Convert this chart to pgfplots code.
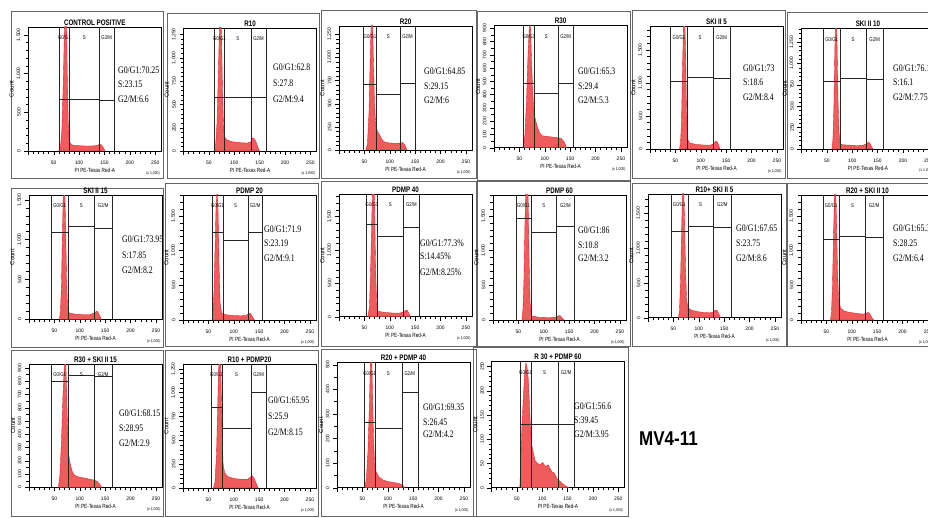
\documentclass[border=0pt]{standalone}
\usepackage{fontspec}
\setmainfont{Liberation Sans}
\newfontfamily\tms{Liberation Serif}
\usepackage{graphicx}
\usepackage{pgfplots}
\pgfplotsset{compat=1.18}

\definecolor{histfill}{RGB}{240,92,92}
\definecolor{histline}{RGB}{222,28,34}

\newcommand\cond[2][0.78]{\scalebox{#1}[1]{#2}}

\pgfplotsset{
  cyto/.style={
    scale only axis, width=133pt, anchor=south west,
    xmin=0, xmax=262, ymin=0,
    axis line style={line width=0.45pt},
    tick align=outside, xtick pos=bottom, ytick pos=left,
    xtick={0,50,...,250}, xticklabels={,50,100,150,200,250},
    minor x tick num=4,
    major tick length=4pt, minor tick length=2.6pt,
    every tick/.style={black, line width=0.35pt},
    scaled y ticks=false,
    /pgf/number format/assume math mode=true,
    /pgf/number format/1000 sep={,},
    tick label style={font=\fontsize{5}{5}\selectfont},
    xticklabel style={yshift=-2pt},
    yticklabel style={rotate=90, anchor=south},
    xlabel={\cond[0.78]{PI PE-Texas Red-A}}, ylabel={Count},
    xlabel style={font=\fontsize{6}{6}\selectfont},
    ylabel style={font=\fontsize{6}{6}\selectfont},
    xlabel shift=-3pt, ylabel shift=-4pt,
    every axis title/.style={at={(0.5,1)}, anchor=south, inner sep=1pt,
      yshift=0.5pt, font=\bfseries\fontsize{8}{8}\selectfont},
    extra description/.code={
      \node[anchor=east, inner sep=0pt, font=\fontsize{4}{4}\selectfont]
        at (0.99,-0.18) {\cond[0.85]{(x 1,000)}};},
  },
  pos/.style n args={3}{at={(#1pt,{517pt-#2pt})}, height=#3pt},
  hist/.style={draw=histline, fill=histfill, line width=0.35pt},
  gl/.style={black!85, line width=0.45pt},
}
\tikzset{
  gtxt/.style={inner sep=0pt, yshift=-11pt, font=\fontsize{5.5}{6}\selectfont},
  ann/.style={anchor=west, inner sep=0pt, font=\tms\fontsize{10}{12}\selectfont},
  frame/.style={draw=black!60, line width=0.8pt},
}

% gates: a b c d  hG1 hS hG2  ymax
\newcommand\gates[8]{%
  \addplot[gl] coordinates {(#1,0) (#1,#8)};
  \addplot[gl] coordinates {(#2,0) (#2,#8)};
  \addplot[gl] coordinates {(#3,0) (#3,#8)};
  \addplot[gl] coordinates {(#4,0) (#4,#8)};
  \addplot[gl] coordinates {(#1,#5) (#2,#5)};
  \addplot[gl] coordinates {(#2,#6) (#3,#6)};
  \addplot[gl] coordinates {(#3,#7) (#4,#7)};
  \node[gtxt] at (axis cs:{(#1+#2)/2},#8) {\cond{G0/G1}};
  \node[gtxt] at (axis cs:{(#2+#3)/2},#8) {\cond{S}};
  \node[gtxt] at (axis cs:{(#3+#4)/2},#8) {\cond{G2/M}};
}
\newcommand\ann[7]{%
  \node[ann] at (#1pt,{517pt-#2pt}) {\cond{#5}};
  \node[ann] at (#1pt,{517pt-#3pt}) {\cond{#6}};
  \node[ann] at (#1pt,{517pt-#4pt}) {\cond{#7}};}
\newcommand\frm[4]{\draw[frame] (#1pt,{517pt-#2pt}) rectangle (#3pt,{517pt-#4pt});}

\begin{document}
\begin{tikzpicture}
\path[use as bounding box] (0,0) rectangle (928pt,517pt);
\clip (0,0) rectangle (928pt,517pt);
\fill[white] (0,0) rectangle (928pt,517pt);

% frames
\frm{11}{11}{163}{178}
\frm{167}{13}{319}{178}
\frm{321}{10}{476}{178}
\frm{477}{11}{630}{180}
\frm{632}{10}{785}{178}
\frm{787}{12}{935}{178}
\frm{11}{188}{163}{347}
\frm{165}{183}{318}{346}
\frm{321}{181}{476}{346}
\frm{477}{181}{630}{346}
\frm{632}{183}{786}{346}
\frm{787}{183}{935}{346}
\frm{11}{350}{163}{516}
\frm{165}{350}{318}{516}
\frm{321}{349}{476}{516}
\frm{473}{347}{628}{516}

% ---------- row 1 ----------
\begin{axis}[cyto, pos={28.3}{151}{124}, ymax=1600, ytick distance=500, minor y tick num=4, title={\cond{CONTROL POSITIVE}}]
\addplot[hist] coordinates {(60,0)(63,30)(66,250)(69,900)(71,1500)(73,1800)(75,1700)(77,900)(79,300)(81,120)(85,80)(95,70)(110,65)(125,65)(135,70)(140,85)(144,80)(148,40)(151,0)} \closedcycle;
\gates{61}{81}{140}{169}{666}{666}{650}{1600}
\end{axis}
\ann{118}{70}{84}{99}{G0/G1:70.25}{S:23.15}{G2/M:6.6}

\begin{axis}[cyto, pos={183.5}{151}{123}, ymax=1320, ytick distance=250, minor y tick num=4, title={\cond{R10}}]
\addplot[hist] coordinates {(60,0)(63,40)(66,300)(69,900)(71,1400)(73,1600)(75,1200)(77,600)(79,250)(81,150)(85,120)(95,100)(110,90)(125,85)(132,95)(136,140)(140,130)(144,80)(148,20)(150,0)} \closedcycle;
\gates{61}{80.5}{133}{162.6}{581}{581}{581}{1320}
\end{axis}
\ann{273}{67}{83}{99}{G0/G1:62.8}{S:27.8}{G2/M:9.4}

\begin{axis}[cyto, pos={339}{150}{124}, ymax=1340, ytick distance=250, minor y tick num=4, title={\cond{R20}}]
\addplot[hist] coordinates {(53,0)(56,60)(59,400)(62,1100)(64,1500)(66,1400)(68,900)(70,500)(72,300)(75,210)(80,160)(85,110)(90,85)(100,75)(110,72)(120,75)(126,80)(130,50)(134,0)} \closedcycle;
\gates{48}{74.3}{120}{150}{714}{598}{721}{1340}
\end{axis}
\ann{424}{71}{86}{100}{G0/G1:64.85}{S:29.15}{G2/M:6}

\begin{axis}[cyto, pos={494}{147.7}{122}, ymax=920, ytick distance=100, minor y tick num=1, title={\cond{R30}}]
\addplot[hist] coordinates {(58,0)(61,100)(64,350)(67,700)(70,950)(72,900)(74,650)(76,450)(78,300)(81,220)(85,160)(90,110)(95,90)(105,85)(115,80)(125,75)(132,70)(138,45)(143,0)} \closedcycle;
\gates{57.8}{79.5}{126.8}{155.2}{484}{414}{489}{920}
\end{axis}
\ann{578}{71}{86}{100}{G0/G1:65.3}{S:29.4}{G2/M:5.3}

\begin{axis}[cyto, pos={650}{149}{122.3}, ymax=1850, ytick distance=500, minor y tick num=4, title={\cond{SKI II 5}}]
\addplot[hist] coordinates {(58,0)(60,80)(62,400)(64,1200)(66,1900)(68,2100)(70,1500)(72,500)(74,150)(78,90)(90,70)(105,60)(120,60)(126,80)(130,120)(133,100)(136,40)(138,0)} \closedcycle;
\gates{40.8}{73.6}{123.6}{159}{1030}{1082}{1067}{1850}
\end{axis}
\ann{743}{68}{82}{97}{G0/G1:73}{S:18.6}{G2/M:8.4}

\begin{axis}[cyto, pos={801.4}{149}{120.7}, ymax=1410, ytick distance=250, minor y tick num=4, title={\cond{SKI II 10}}]
\addplot[hist] coordinates {(60,0)(62,100)(64,500)(66,1200)(68,1600)(70,1300)(72,600)(74,200)(76,70)(80,50)(95,45)(110,40)(122,45)(128,60)(132,80)(135,65)(138,25)(141,0)} \closedcycle;
\gates{43.2}{76.1}{127.4}{161.5}{789}{829}{817}{1410}
\end{axis}
\ann{893}{68}{82}{97}{G0/G1:76.15}{S:16.1}{G2/M:7.75}

% ---------- row 2 ----------
\begin{axis}[cyto, pos={29}{319.3}{124.3}, ymax=1560, ytick distance=500, minor y tick num=4, title={\cond{SKI II 15}}]
\addplot[hist] coordinates {(60,0)(62,100)(64,450)(66,1100)(68,1700)(70,1800)(72,1200)(74,500)(76,150)(79,80)(90,65)(105,60)(120,60)(127,75)(132,95)(135,100)(138,60)(143,0)} \closedcycle;
\gates{43.4}{77.5}{128.2}{164.3}{1088}{1167}{1138}{1560}
\end{axis}
\ann{122}{239}{255}{270}{G0/G1:73.95}{S:17.85}{G2/M:8.2}

\begin{axis}[cyto, pos={183}{320}{125}, ymax=1800, ytick distance=500, minor y tick num=4, title={\cond{PDMP 20}}]
\addplot[hist] coordinates {(57,0)(59,100)(61,400)(63,1000)(65,1600)(67,1900)(69,1600)(71,800)(73,250)(76,100)(85,75)(100,65)(115,60)(124,65)(129,90)(132,100)(135,70)(139,20)(141,0)} \closedcycle;
\gates{57}{79}{128}{156}{1267}{1152}{1267}{1800}
\end{axis}
\ann{264}{229}{243}{258}{G0/G1:71.9}{S:23.19}{G2/M:9.1}

\begin{axis}[cyto, pos={339}{316.7}{122.7}, ymax=1840, ytick distance=500, minor y tick num=4, title={\cond{PDMP 40}}]
\addplot[hist] coordinates {(57,0)(60,150)(62,600)(64,1300)(66,1900)(68,2100)(70,1700)(72,800)(74,200)(77,80)(90,65)(105,55)(120,55)(127,70)(132,100)(135,90)(138,40)(141,0)} \closedcycle;
\gates{54.6}{75.5}{126.8}{158.4}{1386}{1210}{1341}{1840}
\end{axis}
\ann{420}{243}{256}{272}{G0/G1:77.3\%}{S:14.45\%}{G2/M:8.25\%}

\begin{axis}[cyto, pos={493}{320}{125}, ymax=1800, ytick distance=500, minor y tick num=4, title={\cond{PDMP 60}}]
\addplot[hist] coordinates {(57,0)(59,150)(61,600)(63,1400)(65,2100)(67,2300)(69,1800)(71,900)(73,250)(76,60)(90,40)(110,35)(124,40)(129,60)(132,65)(135,40)(138,10)(140,0)} \closedcycle;
\gates{45}{75}{125}{160}{1469}{1267}{1354}{1800}
\end{axis}
\ann{578}{230}{245}{258}{G0/G1:86}{S:10.8}{G2/M:3.2}

\begin{axis}[cyto, pos={648}{317.7}{123.7}, ymax=1780, ytick distance=500, minor y tick num=4, title={\cond{R10+ SKI II 5}}]
\addplot[hist] coordinates {(60,0)(62,100)(64,500)(66,1200)(68,1800)(70,1900)(72,1400)(74,700)(76,250)(79,140)(85,110)(95,90)(110,75)(122,70)(128,80)(133,110)(136,105)(139,60)(143,0)} \closedcycle;
\gates{44.8}{78.3}{128.8}{163.7}{1239}{1311}{1297}{1780}
\end{axis}
\ann{736}{228}{243}{258}{G0/G1:67.65}{S:23.75}{G2/M:8.6}

\begin{axis}[cyto, pos={801}{320}{125}, ymax=1800, ytick distance=500, minor y tick num=4, title={\cond{R20 + SKI II 10}}]
\addplot[hist] coordinates {(58,0)(60,100)(62,500)(64,1200)(66,1800)(68,1900)(70,1400)(72,700)(74,300)(78,170)(85,130)(95,110)(110,95)(122,85)(128,90)(132,110)(135,95)(139,40)(143,0)} \closedcycle;
\gates{43}{76}{127}{161}{1166}{1210}{1195}{1800}
\end{axis}
\ann{893}{228}{243}{258}{G0/G1:65.35}{S:28.25}{G2/M:6.4}

% ---------- row 3 ----------
\begin{axis}[cyto, pos={29}{487.3}{123.3}, ymax=930, ytick distance=100, minor y tick num=1, title={\cond{R30 + SKI II 15}}]
\addplot[hist] coordinates {(58,0)(61,100)(64,350)(67,700)(70,950)(72,1000)(74,750)(76,450)(78,250)(81,180)(85,120)(90,90)(100,75)(110,70)(120,60)(128,55)(134,45)(139,25)(143,0)} \closedcycle;
\gates{43.4}{77.5}{128.2}{164.3}{800}{845}{838}{930}
\end{axis}
\ann{119}{413}{428}{443}{G0/G1:68.15}{S:28.95}{G2/M:2.9}

\begin{axis}[cyto, pos={183}{488}{124}, ymax=1300, ytick distance=250, minor y tick num=4, title={\cond{R10 + PDMP20}}]
\addplot[hist] coordinates {(60,0)(63,60)(66,350)(69,1000)(71,1400)(73,1500)(75,1100)(77,550)(79,250)(82,160)(88,120)(100,100)(115,90)(127,90)(132,110)(136,130)(140,100)(144,50)(148,0)} \closedcycle;
\gates{55}{77}{134}{164}{850}{629}{1006}{1300}
\end{axis}
\ann{268}{400}{416}{432}{G0/G1:65.95}{S:25.9}{G2/M:8.15}

\begin{axis}[cyto, pos={337}{487.7}{125.4}, ymax=510, ytick distance=100, minor y tick num=1, title={\cond{R20 + PDMP 40}}]
\addplot[hist] coordinates {(55,0)(58,40)(61,150)(64,350)(66,520)(68,560)(70,380)(72,200)(74,100)(77,65)(82,45)(90,32)(100,25)(115,20)(125,15)(130,8)(134,0)} \closedcycle;
\gates{53.8}{74.9}{127.6}{159.2}{265}{242}{389}{510}
\end{axis}
\ann{423}{407}{422}{434}{G0/G1:69.35}{S:26.45}{G2/M:4.2}

\begin{axis}[cyto, pos={491.4}{487.7}{126}, ymax=260, ytick distance=50, minor y tick num=4, title={\cond{R 30 + PDMP 60}}]
\addplot[hist] coordinates {(56,0)(58,60)(60,123)(63,190)(66,240)(68,258)(70,250)(73,220)(76,145)(79,90)(83,70)(86,56)(91,50)(96,47)(101,52)(106,44)(112,47)(119,33)(124,30)(129,19)(134,14)(139,9)(144,5)(149,2)(152,0)} \closedcycle;
\gates{56.4}{78.1}{130.8}{163.5}{132}{132}{132}{260}
\end{axis}
\ann{574}{406}{420}{434}{G0/G1:56.6}{S:39.45}{G2/M:3.95}

\node[anchor=west, inner sep=0pt, font=\bfseries\fontsize{20}{20}\selectfont] at (639pt,{517pt-439pt}) {\cond[0.85]{MV4-11}};
\end{tikzpicture}
\end{document}
